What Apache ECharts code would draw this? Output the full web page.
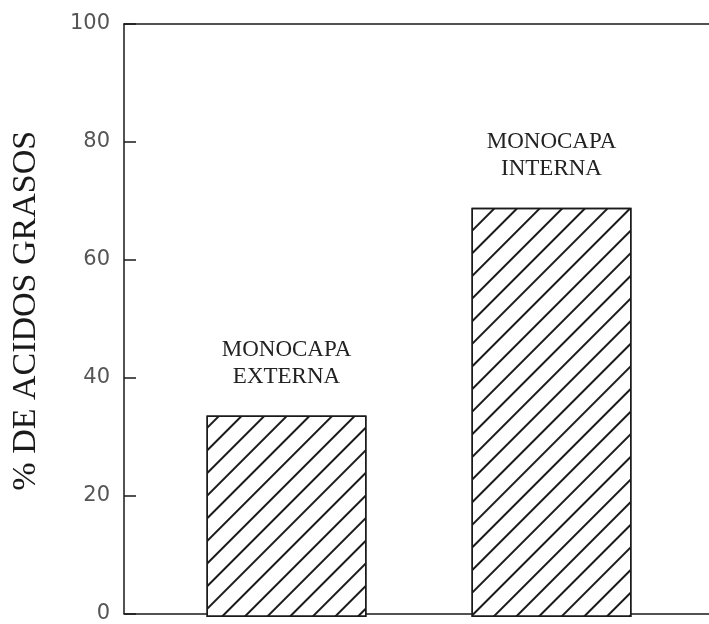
<!DOCTYPE html>
<html>
<head>
    <meta charset="utf-8">
    <style>
        html, body {
            width: 100%;
            height: 100%;
            margin: 0;
            background: #fff;
        }

        #chart-panel {
            width: 709px;
            height: 624px;
        }
    </style>
    <script src="https://cdn.jsdelivr.net/npm/echarts@6/dist/echarts.min.js"></script>
</head>
<body>
<div id="chart-panel"></div>
<script type="text/javascript">

  // values
  var categories = ['MONOCAPA\nEXTERNA', 'MONOCAPA\nINTERNA'];
  var percent = [34, 69];
  var yTicks = [0, 20, 40, 60, 80, 100];

  var axisColor = '#1a1a1a';
  var serif = '"Liberation Serif", "DejaVu Serif", serif';

  var myChart = echarts.init(document.getElementById('chart-panel'));

  var option = {
    animation: false,
    backgroundColor: '#fff',
    // grid 0 holds the frame and the y scale, grid 1 places the two bars
    grid: [
      {left: 124, right: -20, top: 24, bottom: 7},
      {left: 154, right: 25, top: 24, bottom: 7}
    ],
    xAxis: [
      {
        gridIndex: 0, type: 'value', min: 0, max: 1, position: 'bottom',
        axisLine: {show: true, lineStyle: {color: axisColor, width: 1.5}},
        axisTick: {show: false}, axisLabel: {show: false}, splitLine: {show: false}
      },
      {
        gridIndex: 0, type: 'value', min: 0, max: 1, position: 'top',
        axisLine: {show: true, lineStyle: {color: axisColor, width: 1.5}},
        axisTick: {show: false}, axisLabel: {show: false}, splitLine: {show: false}
      },
      {
        gridIndex: 1, type: 'category', data: categories,
        axisLine: {show: false}, axisTick: {show: false},
        axisLabel: {show: false}, splitLine: {show: false}
      }
    ],
    yAxis: [
      {
        gridIndex: 0, type: 'value',
        min: yTicks[0], max: yTicks[yTicks.length - 1], interval: 20,
        name: '% DE ACIDOS GRASOS',
        nameLocation: 'middle',
        nameGap: 81,
        nameTextStyle: {
          fontFamily: serif, fontSize: 34, color: '#1a1a1a',
          padding: [0, 0, 0, 16]
        },
        axisLine: {show: true, lineStyle: {color: axisColor, width: 1.5}},
        axisTick: {show: true, inside: true, length: 12, lineStyle: {color: axisColor, width: 1.5}},
        axisLabel: {
          margin: 14, fontFamily: '"DejaVu Sans", sans-serif',
          fontSize: 21, color: '#555'
        },
        splitLine: {show: false}
      },
      {
        gridIndex: 1, type: 'value', min: 0, max: 100,
        axisLine: {show: false}, axisTick: {show: false},
        axisLabel: {show: false}, splitLine: {show: false}
      }
    ],
    series: [{
      type: 'bar',
      xAxisIndex: 2,
      yAxisIndex: 1,
      data: percent,
      barWidth: 160,
      itemStyle: {
        color: '#fff',
        borderColor: axisColor,
        borderWidth: 1.5,
        decal: {
          symbol: 'rect',
          symbolSize: 1,
          color: '#1a1a1a',
          dashArrayX: [1, 0],
          dashArrayY: [1.5, 13.5],
          rotation: -Math.PI / 4
        }
      },
      label: {
        show: true,
        position: 'top',
        distance: 25,
        formatter: '{b}',
        fontFamily: serif,
        fontSize: 23,
        lineHeight: 27,
        color: '#222',
        align: 'center'
      }
    }]
  };

  myChart.setOption(option);
</script>
</body>
</html>
